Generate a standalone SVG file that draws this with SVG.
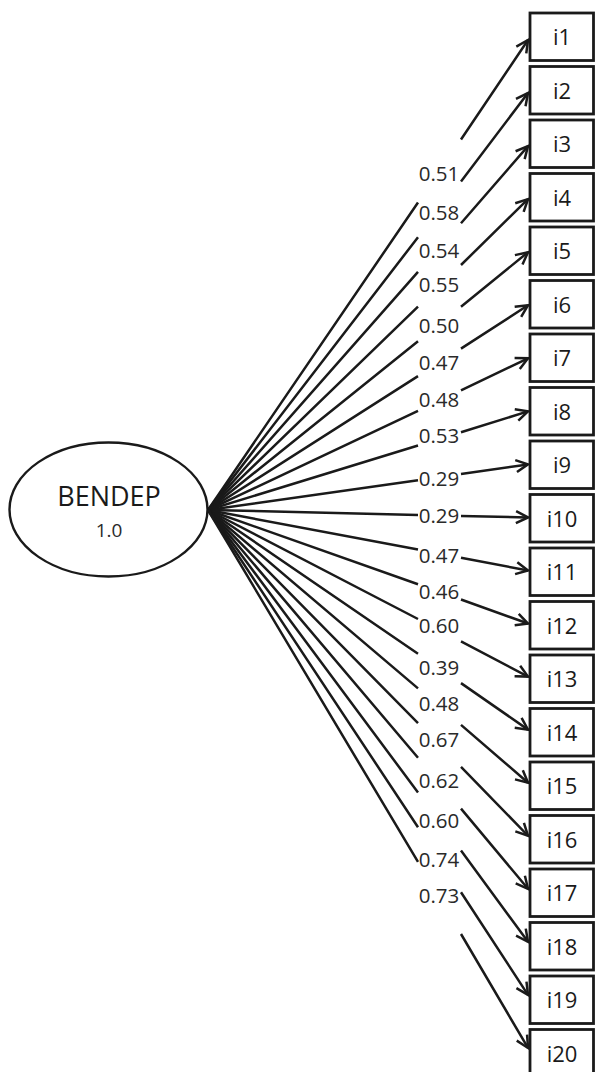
<svg xmlns="http://www.w3.org/2000/svg" width="595" height="1072" viewBox="0 0 595 1072">
<defs>
<marker id="arr" viewBox="-14 -8 16 16" markerWidth="16" markerHeight="16" refX="0" refY="0" orient="auto" markerUnits="userSpaceOnUse">
<path d="M-12,-6 L0,0 L-12,6" fill="none" stroke="#1a1a1a" stroke-width="2.5" stroke-linejoin="miter"/>
</marker>
<style>
.ln{stroke:#1a1a1a;stroke-width:2.5;fill:none}
.box{fill:#fff;stroke:#1a1a1a;stroke-width:2.8}
.bt{font-family:"Open Sans","Noto Sans",sans-serif;font-size:22px;fill:#1a1a1a;text-anchor:middle}
.lb{font-family:"Open Sans","Noto Sans",sans-serif;font-size:20.5px;fill:#2a2a2a;text-anchor:middle}
</style>
</defs>
<rect width="595" height="1072" fill="#fff"/>
<g id="BENDEP">
<ellipse cx="108.5" cy="509.5" rx="99" ry="67" fill="#fff" stroke="#1a1a1a" stroke-width="2.4"/>
<text x="109" y="506" font-family="'Open Sans','Noto Sans',sans-serif" font-size="27" fill="#1a1a1a" text-anchor="middle">BENDEP</text>
<text x="109" y="537" font-family="'Open Sans','Noto Sans',sans-serif" font-size="19" fill="#2a2a2a" text-anchor="middle">1.0</text>
</g>
<g id="connectors">
<path class="ln" d="M208,510 L418,202.5 M461,139.5 L528,40" marker-end="url(#arr)"/>
<path class="ln" d="M208,510 L418,237.2 M461,181.4 L528,93.05" marker-end="url(#arr)"/>
<path class="ln" d="M208,510 L418,271.9 M461,223.2 L528,146.1" marker-end="url(#arr)"/>
<path class="ln" d="M208,510 L418,306.6 M461,265 L528,199.15" marker-end="url(#arr)"/>
<path class="ln" d="M208,510 L418,341.3 M461,306.8 L528,252.2" marker-end="url(#arr)"/>
<path class="ln" d="M208,510 L418,376.1 M461,348.6 L528,305.25" marker-end="url(#arr)"/>
<path class="ln" d="M208,510 L418,410.8 M461,390.4 L528,358.3" marker-end="url(#arr)"/>
<path class="ln" d="M208,510 L418,445.5 M461,432.2 L528,411.35" marker-end="url(#arr)"/>
<path class="ln" d="M208,510 L418,480.2 M461,474.1 L528,464.4" marker-end="url(#arr)"/>
<path class="ln" d="M208,510 L418,514.9 M461,515.9 L528,517.45" marker-end="url(#arr)"/>
<path class="ln" d="M208,510 L418,549.6 M461,557.7 L528,570.5" marker-end="url(#arr)"/>
<path class="ln" d="M208,510 L418,584.3 M461,599.5 L528,623.55" marker-end="url(#arr)"/>
<path class="ln" d="M208,510 L418,619 M461,641.3 L528,676.6" marker-end="url(#arr)"/>
<path class="ln" d="M208,510 L418,653.7 M461,683.1 L528,729.65" marker-end="url(#arr)"/>
<path class="ln" d="M208,510 L418,688.4 M461,724.9 L528,782.7" marker-end="url(#arr)"/>
<path class="ln" d="M208,510 L418,723.1 M461,766.8 L528,835.75" marker-end="url(#arr)"/>
<path class="ln" d="M208,510 L418,757.8 M461,808.6 L528,888.8" marker-end="url(#arr)"/>
<path class="ln" d="M208,510 L418,792.5 M461,850.4 L528,941.85" marker-end="url(#arr)"/>
<path class="ln" d="M208,510 L418,827.2 M461,892.2 L528,994.9" marker-end="url(#arr)"/>
<path class="ln" d="M208,510 L418,861.9 M461,934 L528,1047.95" marker-end="url(#arr)"/>
<text class="lb" x="439" y="181">0.51</text>
<text class="lb" x="439" y="220">0.58</text>
<text class="lb" x="439" y="258">0.54</text>
<text class="lb" x="439" y="292">0.55</text>
<text class="lb" x="439" y="333">0.50</text>
<text class="lb" x="439" y="370">0.47</text>
<text class="lb" x="439" y="407">0.48</text>
<text class="lb" x="439" y="443">0.53</text>
<text class="lb" x="439" y="486">0.29</text>
<text class="lb" x="439" y="523">0.29</text>
<text class="lb" x="439" y="563">0.47</text>
<text class="lb" x="439" y="599">0.46</text>
<text class="lb" x="439" y="633">0.60</text>
<text class="lb" x="439" y="675">0.39</text>
<text class="lb" x="439" y="711">0.48</text>
<text class="lb" x="439" y="747">0.67</text>
<text class="lb" x="439" y="788">0.62</text>
<text class="lb" x="439" y="828">0.60</text>
<text class="lb" x="439" y="867">0.74</text>
<text class="lb" x="439" y="903">0.73</text>
</g>
<g id="i1"><rect class="box" x="530" y="13" width="63.5" height="47.5"/><text class="bt" x="562" y="45">i1</text></g>
<g id="i2"><rect class="box" x="530" y="66.5" width="63.5" height="47.5"/><text class="bt" x="562" y="98.5">i2</text></g>
<g id="i3"><rect class="box" x="530" y="120" width="63.5" height="47.5"/><text class="bt" x="562" y="152">i3</text></g>
<g id="i4"><rect class="box" x="530" y="173.5" width="63.5" height="47.5"/><text class="bt" x="562" y="205.5">i4</text></g>
<g id="i5"><rect class="box" x="530" y="227" width="63.5" height="47.5"/><text class="bt" x="562" y="259">i5</text></g>
<g id="i6"><rect class="box" x="530" y="280.5" width="63.5" height="47.5"/><text class="bt" x="562" y="312.5">i6</text></g>
<g id="i7"><rect class="box" x="530" y="334" width="63.5" height="47.5"/><text class="bt" x="562" y="366">i7</text></g>
<g id="i8"><rect class="box" x="530" y="387.5" width="63.5" height="47.5"/><text class="bt" x="562" y="419.5">i8</text></g>
<g id="i9"><rect class="box" x="530" y="441" width="63.5" height="47.5"/><text class="bt" x="562" y="473">i9</text></g>
<g id="i10"><rect class="box" x="530" y="494.5" width="63.5" height="47.5"/><text class="bt" x="562" y="526.5">i10</text></g>
<g id="i11"><rect class="box" x="530" y="548" width="63.5" height="47.5"/><text class="bt" x="562" y="580">i11</text></g>
<g id="i12"><rect class="box" x="530" y="601.5" width="63.5" height="47.5"/><text class="bt" x="562" y="633.5">i12</text></g>
<g id="i13"><rect class="box" x="530" y="655" width="63.5" height="47.5"/><text class="bt" x="562" y="687">i13</text></g>
<g id="i14"><rect class="box" x="530" y="708.5" width="63.5" height="47.5"/><text class="bt" x="562" y="740.5">i14</text></g>
<g id="i15"><rect class="box" x="530" y="762" width="63.5" height="47.5"/><text class="bt" x="562" y="794">i15</text></g>
<g id="i16"><rect class="box" x="530" y="815.5" width="63.5" height="47.5"/><text class="bt" x="562" y="847.5">i16</text></g>
<g id="i17"><rect class="box" x="530" y="869" width="63.5" height="47.5"/><text class="bt" x="562" y="901">i17</text></g>
<g id="i18"><rect class="box" x="530" y="922.5" width="63.5" height="47.5"/><text class="bt" x="562" y="954.5">i18</text></g>
<g id="i19"><rect class="box" x="530" y="976" width="63.5" height="47.5"/><text class="bt" x="562" y="1008">i19</text></g>
<g id="i20"><rect class="box" x="530" y="1029.5" width="63.5" height="47.5"/><text class="bt" x="562" y="1061.5">i20</text></g>
</svg>
